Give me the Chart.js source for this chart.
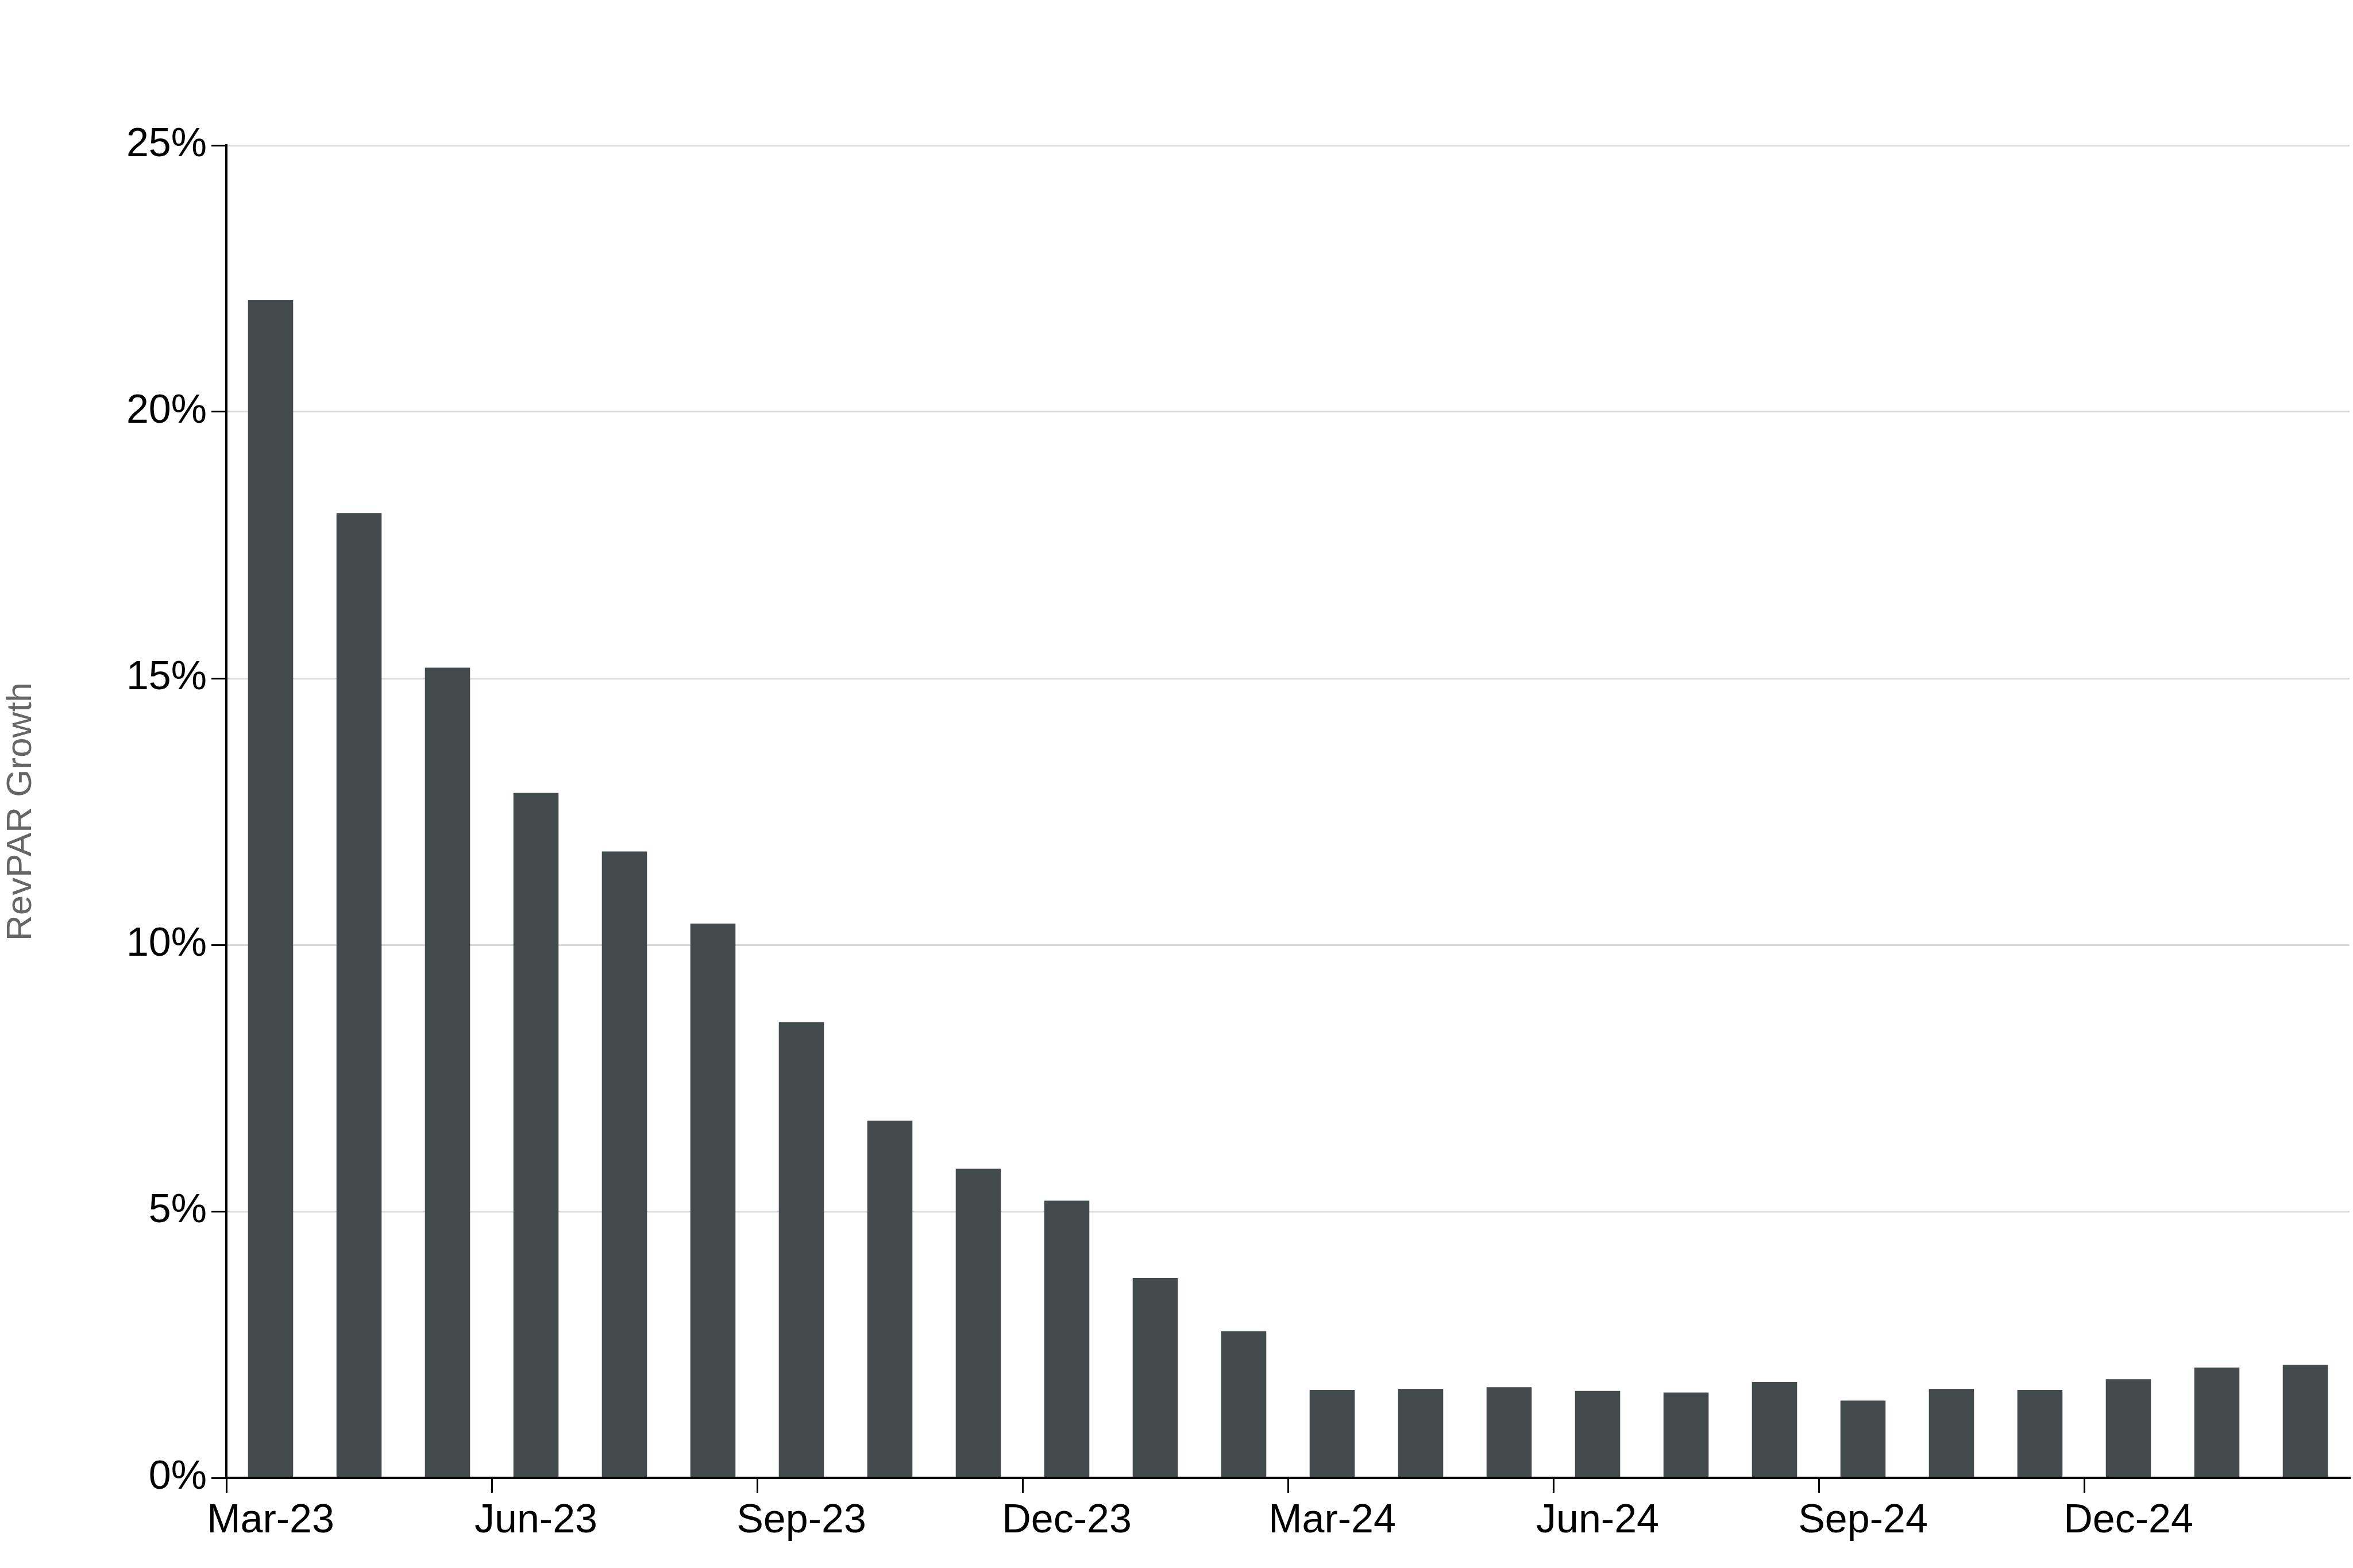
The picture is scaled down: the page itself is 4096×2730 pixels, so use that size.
<!DOCTYPE html>
<html>
<head>
<meta charset="utf-8">
<script src="https://cdn.jsdelivr.net/npm/chart.js@4"></script>
<style>
  html, body { margin: 0; padding: 0; background: #fff; }
  #wrap { width: 4096px; height: 2730px; }
</style>
</head>
<body>
<div id="wrap"><canvas id="myChart" width="4096" height="2730"></canvas></div>
<script>
// Monthly RevPAR growth, Mar-23 .. Feb-25
const months = ['Mar-23', 'Apr-23', 'May-23', 'Jun-23', 'Jul-23', 'Aug-23', 'Sep-23', 'Oct-23',
  'Nov-23', 'Dec-23', 'Jan-24', 'Feb-24', 'Mar-24', 'Apr-24', 'May-24', 'Jun-24', 'Jul-24',
  'Aug-24', 'Sep-24', 'Oct-24', 'Nov-24', 'Dec-24', 'Jan-25', 'Feb-25'];
const growth = [22.1, 18.1, 15.2, 12.85, 11.75, 10.4, 8.55, 6.7, 5.8, 5.2, 3.75, 2.75,
  1.65, 1.67, 1.7, 1.63, 1.6, 1.8, 1.45, 1.67, 1.65, 1.85, 2.07, 2.12];
const yTicks = [0, 5, 10, 15, 20, 25];

const font = 'Liberation Sans, Arial, sans-serif';

const ctx = document.getElementById('myChart').getContext('2d');
const chart = new Chart(ctx, {
  type: 'bar',
  data: {
    labels: months,
    datasets: [{
      data: growth,
      backgroundColor: '#434b4d',
      borderWidth: 0,
      categoryPercentage: 1,
      barPercentage: 0.51
    }]
  },
  options: {
    responsive: false,
    animation: false,
    devicePixelRatio: 1,
    layout: { padding: { top: 253, right: 6, left: 0, bottom: 0 } },
    plugins: { legend: { display: false }, tooltip: { enabled: false } },
    scales: {
      x: {
        offset: true,
        grid: {
          offset: true,
          drawOnChartArea: false,
          tickLength: 26,
          lineWidth: 3,
          tickColor: c => (c.index % 3 === 0 ? '#000' : 'rgba(0,0,0,0)')
        },
        border: { color: '#000', width: 4 },
        ticks: {
          autoSkip: false,
          maxRotation: 0,
          color: '#000',
          font: { family: font, size: 70 },
          padding: 8,
          callback: (v, i) => (i % 3 === 0 ? months[i] : '')
        },
        afterFit: s => { s.height = 157; }
      },
      y: {
        min: 0,
        max: 25,
        afterBuildTicks: s => { s.ticks = yTicks.map(v => ({ value: v })); },
        grid: {
          color: '#d9d9d9',
          lineWidth: 3,
          tickColor: '#000',
          tickLength: 26
        },
        border: { color: '#000', width: 4 },
        ticks: {
          color: '#000',
          font: { family: font, size: 70 },
          padding: 8,
          callback: v => v + '%'
        },
        title: {
          display: true,
          text: 'RevPAR Growth',
          color: '#666',
          font: { family: font, size: 62 },
          padding: 0
        },
        afterFit: s => { s.width = 394; }
      }
    }
  }
});
</script>
</body>
</html>
